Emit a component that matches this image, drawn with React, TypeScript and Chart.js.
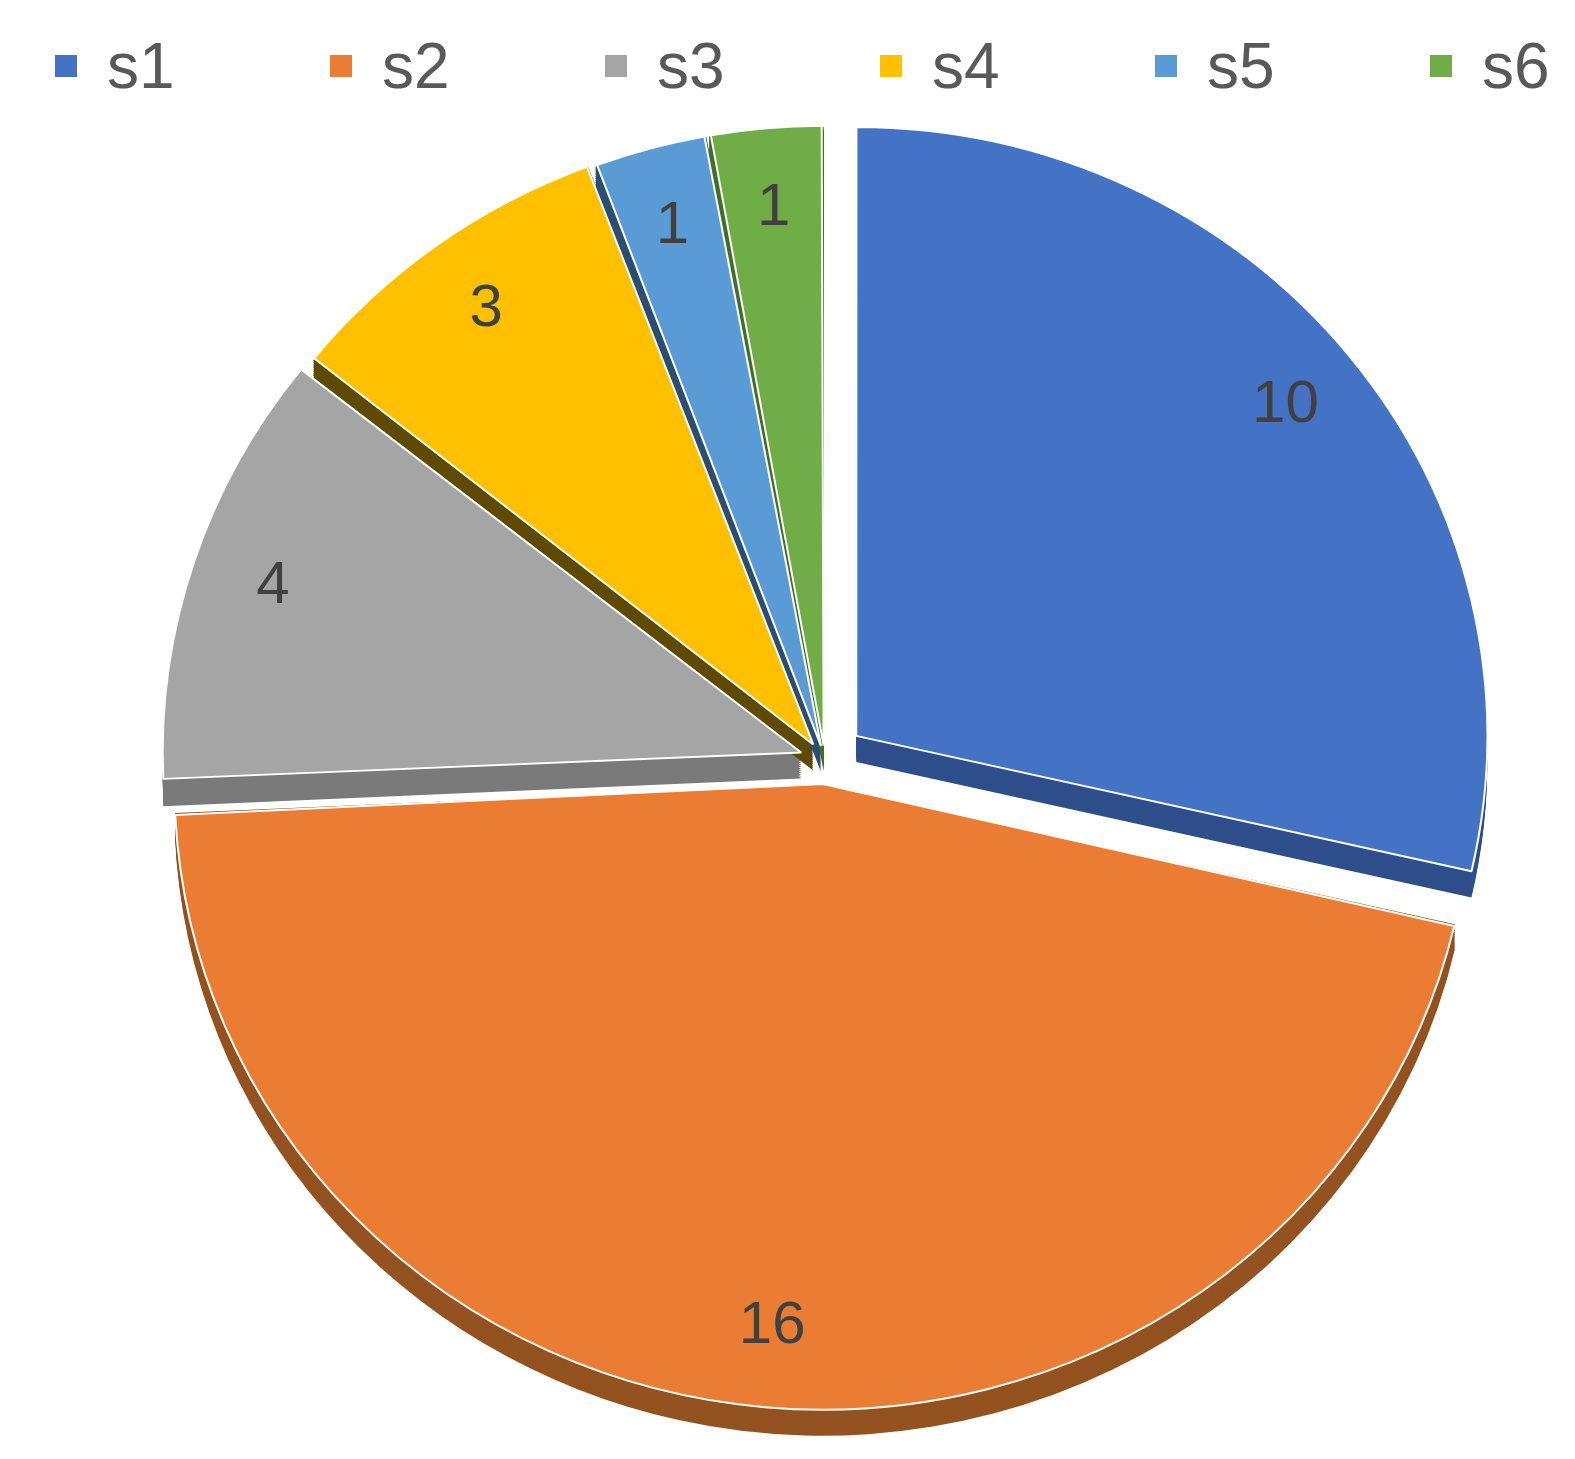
import React, { useEffect, useRef } from "react";
import { Chart, registerables } from "chart.js";

Chart.register(...registerables);

const categories = ["s1", "s2", "s3", "s4", "s5", "s6"];
const values = [10, 16, 4, 3, 1, 1];
const sliceColors = ["#4472C4", "#EB7C33", "#A5A5A5", "#FFC000", "#5B9BD5", "#70AD47"];
const sideColors = ["#2E4E8C", "#93521F", "#7A7A7A", "#5E4A00", "#2D4E73", "#44702A"];

const DEPTH = 26;
const SQUASH = 0.965;

function arcGeom(arc: any) {
  const p = arc.getProps(["x", "y", "startAngle", "endAngle", "outerRadius"], true);
  const off = (arc.options.offset || 0) / 4;
  const circ = p.endAngle - p.startAngle;
  const fix = 1 - Math.sin(Math.min(Math.PI, circ));
  const r = p.outerRadius + off * fix;
  const mid = (p.startAngle + p.endAngle) / 2;
  const cx = p.x + Math.cos(mid) * off;
  const cy = p.y + Math.sin(mid) * off;
  return { cx, cy, r, mid, start: p.startAngle, end: p.endAngle, y0: p.y };
}

const sidePlugin = {
  id: "pieSides",
  beforeDatasetsDraw(chart: any) {
    const ctx = chart.ctx;
    const meta = chart.getDatasetMeta(0);
    const area = chart.chartArea;
    const c = (area.top + area.bottom) / 2;
    ctx.save();
    ctx.translate(0, c);
    ctx.scale(1, SQUASH);
    ctx.translate(0, -c);
    meta.data.forEach((arc: any, i: number) => {
      const g = arcGeom(arc);
      ctx.save();
      ctx.fillStyle = sideColors[i];
      for (let t = DEPTH / SQUASH; t > 0; t -= 2) {
        ctx.beginPath();
        ctx.moveTo(g.cx, g.cy + t);
        ctx.arc(g.cx, g.cy + t, g.r, g.start, g.end);
        ctx.closePath();
        ctx.fill();
      }
      ctx.restore();
    });
  },
};

const labelPlugin = {
  id: "pieLabels",
  afterDatasetsDraw(chart: any) {
    const ctx = chart.ctx;
    ctx.restore();
    const meta = chart.getDatasetMeta(0);
    const data = chart.data.datasets[0].data;
    const area = chart.chartArea;
    const c = (area.top + area.bottom) / 2;
    ctx.save();
    ctx.font = "60px 'Liberation Sans', Arial, sans-serif";
    ctx.fillStyle = "#404040";
    ctx.textAlign = "center";
    ctx.textBaseline = "middle";
    meta.data.forEach((arc: any, i: number) => {
      const g = arcGeom(arc);
      const rr = g.r * 0.87;
      const lx = g.cx + Math.cos(g.mid) * rr;
      const ly = g.cy + Math.sin(g.mid) * rr;
      ctx.fillText(String(data[i]), lx, c + (ly - c) * SQUASH);
    });
    ctx.restore();
  },
};

export default function App() {
  const ref = useRef<HTMLCanvasElement | null>(null);

  useEffect(() => {
    if (!ref.current) return;
    const chart = new Chart(ref.current, {
      type: "pie",
      data: {
        labels: categories,
        datasets: [
          {
            data: values,
            backgroundColor: sliceColors,
            borderColor: "#ffffff",
            borderWidth: 2,
            offset: [160, 100, 100, 80, 60, 60],
            hoverOffset: 0,
          },
        ],
      },
      options: {
        responsive: false,
        animation: false,
        radius: 630,
        layout: { padding: { left: 75, right: 0, top: 61, bottom: 0 } },
        plugins: {
          legend: { display: false },
          tooltip: { enabled: false },
        },
      } as any,
      plugins: [sidePlugin, labelPlugin],
    });
    return () => chart.destroy();
  }, []);

  return (
    <div style={{ position: "absolute", left: 0, top: 0, width: 1575, height: 1459, background: "#ffffff" }}>
      <canvas ref={ref} width={1575} height={1459} style={{ position: "absolute", left: 0, top: 0 }} />
      <div style={{ position: "absolute", left: 55, top: 34, display: "flex" }}>
        {categories.map((c, i) => (
          <div key={c} style={{ width: 275, height: 64, display: "flex", alignItems: "center" }}>
            <span style={{ display: "inline-block", width: 22, height: 22, background: sliceColors[i], marginRight: 30 }} />
            <span style={{ font: "64px 'Liberation Sans', Arial, sans-serif", lineHeight: "64px", color: "#595959" }}>{c}</span>
          </div>
        ))}
      </div>
    </div>
  );
}
